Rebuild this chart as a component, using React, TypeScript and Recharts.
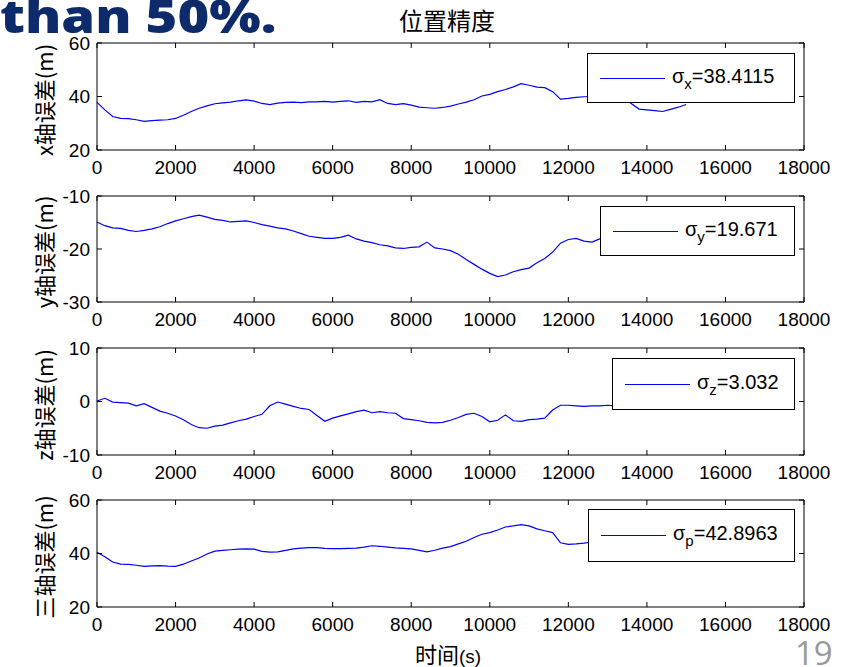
import React from 'react'
import { LineChart, Line, XAxis, YAxis, ReferenceLine } from 'recharts'

// time axis (s), one sample every 200 s
const TIME = [
  0, 200, 400, 600, 800, 1000, 1200, 1400, 1600, 1800,
  2000, 2200, 2400, 2600, 2800, 3000, 3200, 3400, 3600, 3800,
  4000, 4200, 4400, 4600, 4800, 5000, 5200, 5400, 5600, 5800,
  6000, 6200, 6400, 6600, 6800, 7000, 7200, 7400, 7600, 7800,
  8000, 8200, 8400, 8600, 8800, 9000, 9200, 9400, 9600, 9800,
  10000, 10200, 10400, 10600, 10800, 11000, 11200, 11400, 11600, 11800,
  12000, 12200, 12400, 12600, 12800, 13000, 13200, 13400, 13600, 13800,
  14000, 14200, 14400, 14600, 14800, 15000,
]

const X_ERR = [
  37.8, 35.0, 32.5, 31.8, 31.7, 31.3, 30.7, 31.0, 31.2, 31.3,
  31.8, 33.0, 34.4, 35.6, 36.5, 37.3, 37.6, 37.9, 38.4, 38.7,
  38.3, 37.4, 37.0, 37.5, 37.8, 37.9, 37.7, 38.0, 38.0, 38.2,
  37.9, 38.2, 38.4, 37.8, 38.2, 38.0, 38.8, 37.4, 37.0, 37.3,
  36.8, 36.0, 35.8, 35.6, 35.9, 36.4, 37.2, 37.9, 38.8, 40.2,
  40.8, 41.8, 42.6, 43.6, 44.8, 44.2, 43.5, 43.3, 41.8, 39.0,
  39.3, 39.7, 39.9, 40.0, 40.3, 40.5, 40.2, 39.6, 37.4, 35.3,
  35.0, 34.7, 34.4, 35.2, 36.0, 37.0,
]

const Y_ERR = [
  -14.9, -15.6, -16.0, -16.1, -16.5, -16.7, -16.5, -16.2, -15.8, -15.2,
  -14.7, -14.3, -13.9, -13.6, -14.0, -14.4, -14.6, -14.9, -14.8, -14.7,
  -15.0, -15.4, -15.7, -16.0, -16.2, -16.6, -17.1, -17.6, -17.8, -18.0,
  -18.0, -17.8, -17.4, -18.1, -18.5, -18.8, -19.2, -19.4, -19.8, -19.9,
  -19.7, -19.6, -18.7, -19.8, -20.0, -20.3, -21.0, -22.0, -22.9, -23.8,
  -24.6, -25.2, -24.9, -24.3, -23.9, -23.6, -22.6, -21.8, -20.6, -18.9,
  -18.2, -18.0, -18.5, -18.7, -18.1, -18.0, -17.8, -17.9, -18.2, -18.4,
  -18.3, -18.6, -18.8, -18.5, -18.4, -18.6,
]

const Z_ERR = [
  0.1, 0.6, -0.1, -0.2, -0.3, -0.8, -0.4, -1.1, -1.8, -2.2,
  -2.7, -3.4, -4.3, -4.9, -5.0, -4.6, -4.4, -4.0, -3.6, -3.3,
  -2.8, -2.4, -0.8, -0.1, -0.5, -0.9, -1.3, -1.5, -2.6, -3.7,
  -3.1, -2.7, -2.3, -1.9, -1.6, -2.1, -1.9, -2.1, -2.2, -3.2,
  -3.4, -3.6, -3.9, -4.0, -3.9, -3.5, -3.0, -2.4, -2.2, -2.8,
  -3.8, -3.5, -2.5, -3.6, -3.7, -3.4, -3.3, -3.1, -1.6, -0.7,
  -0.7, -0.8, -0.9, -0.8, -0.8, -0.7, -0.8, -0.9, -0.8, -0.9,
  -1.0, -0.9, -1.0, -1.1, -1.0, -1.1,
]

const P_ERR = [
  40.5, 38.8, 36.8, 36.0, 35.9, 35.6, 35.2, 35.4, 35.5, 35.3,
  35.2, 36.0, 37.2, 38.3, 39.8, 40.9, 41.2, 41.4, 41.6, 41.7,
  41.6, 40.8, 40.5, 40.6, 41.2, 41.7, 42.0, 42.2, 42.2, 41.9,
  41.8, 41.8, 41.9, 42.0, 42.4, 42.9, 42.7, 42.4, 42.1, 41.9,
  41.7, 41.2, 40.6, 41.2, 42.0, 42.6, 43.6, 44.6, 46.0, 47.2,
  47.8, 48.8, 49.9, 50.3, 50.8, 50.3, 49.2, 48.5, 47.8, 44.0,
  43.4, 43.6, 43.9, 44.3, 44.5, 44.6, 44.4, 44.2, 43.6, 43.0,
  42.8, 42.6, 42.5, 42.8, 43.0, 43.2,
]

const X_TICKS = [0, 2000, 4000, 6000, 8000, 10000, 12000, 14000, 16000, 18000]
const X_DOMAIN = [0, 18000]

const ROWS = TIME.map((t, i) => ({ t, x: X_ERR[i], y: Y_ERR[i], z: Z_ERR[i], p: P_ERR[i] }))

const PLOT_LEFT = 97
const PLOT_W = 707
const TICK_FONT = '"Liberation Sans", Arial, sans-serif'
const CJK_FONT = '"Noto Sans CJK SC", "Liberation Sans", sans-serif'

const PANELS = [
  { key: 'x', top: 43, h: 107, domain: [20, 60], ticks: [20, 40, 60], label: 'x轴误差(m)', sub: 'x', sigma: '38.4115', lg: { left: 587, top: 53, width: 208, height: 50 } },
  { key: 'y', top: 196, h: 106, domain: [-30, -10], ticks: [-30, -20, -10], label: 'y轴误差(m)', sub: 'y', sigma: '19.671', lg: { left: 600, top: 206, width: 195, height: 50 } },
  { key: 'z', top: 348, h: 107, domain: [-10, 10], ticks: [-10, 0, 10], label: 'z轴误差(m)', sub: 'z', sigma: '3.032', lg: { left: 612, top: 358, width: 183, height: 52 } },
  { key: 'p', top: 500, h: 107, domain: [20, 60], ticks: [20, 40, 60], label: '三轴误差(m)', sub: 'p', sigma: '42.8963', lg: { left: 588, top: 509, width: 207, height: 53 } },
]

const X_MARGIN = 11
const Y_MARGIN = 7

const makeXTick = (h: number) => (props: any) => {
  const { x, y, payload } = props
  const base = y - X_MARGIN
  return (
    <g>
      <line x1={x} x2={x} y1={base} y2={base - 5} stroke="#000" />
      <line x1={x} x2={x} y1={base - h} y2={base - h + 5} stroke="#000" />
      <text x={x} y={y} dy="0.71em" textAnchor="middle" fontSize={19} fontFamily={TICK_FONT} fill="#000">
        {payload.value}
      </text>
    </g>
  )
}

const makeYTick = () => (props: any) => {
  const { x, y, payload } = props
  const base = x + Y_MARGIN
  return (
    <g>
      <line x1={base} x2={base + 5} y1={y} y2={y} stroke="#000" />
      <line x1={base + PLOT_W} x2={base + PLOT_W - 5} y1={y} y2={y} stroke="#000" />
      <text x={x} y={y} dy="0.36em" textAnchor="end" fontSize={19} fontFamily={TICK_FONT} fill="#000">
        {payload.value}
      </text>
    </g>
  )
}

function Panel({ p }: { p: (typeof PANELS)[number] }) {
  const chartH = p.h + 10 + 35
  return (
    <>
      <div style={{ position: 'absolute', left: 0, top: p.top - 10 }}>
        <LineChart width={854} height={chartH} data={ROWS} margin={{ top: 10, right: 50, bottom: 0, left: 0 }}>
          <XAxis
            dataKey="t"
            type="number"
            domain={X_DOMAIN}
            ticks={X_TICKS}
            interval={0}
            height={35}
            tickSize={0}
            tickMargin={X_MARGIN}
            tickLine={false}
            axisLine={{ stroke: '#000' }}
            tick={makeXTick(p.h)}
          />
          <YAxis
            type="number"
            domain={p.domain}
            ticks={p.ticks}
            interval={0}
            width={PLOT_LEFT}
            tickSize={0}
            tickMargin={Y_MARGIN}
            tickLine={false}
            axisLine={{ stroke: '#000' }}
            tick={makeYTick()}
          />
          <ReferenceLine y={p.domain[1]} stroke="#000" />
          <ReferenceLine x={X_DOMAIN[1]} stroke="#000" />
          <Line
            dataKey={p.key}
            type="linear"
            stroke="#0000ff"
            strokeWidth={1.2}
            dot={false}
            isAnimationActive={false}
          />
        </LineChart>
      </div>
      <div
        style={{
          position: 'absolute',
          left: 43,
          top: p.top + p.h / 2 + 3,
          transform: 'translate(-50%, -50%) rotate(-90deg)',
          whiteSpace: 'nowrap',
          fontSize: 22,
          lineHeight: 1,
          fontFamily: CJK_FONT,
          color: '#000',
        }}
      >
        {p.label}
      </div>
      <div
        style={{
          position: 'absolute',
          ...p.lg,
          boxSizing: 'border-box',
          border: '1.5px solid #000',
          background: '#fff',
          display: 'flex',
          alignItems: 'center',
          paddingLeft: 12,
          fontFamily: TICK_FONT,
          fontSize: 20,
          color: '#000',
        }}
      >
        <div style={{ width: 65, height: 0, borderTop: '1px solid #0000ff' }} />
        <span style={{ marginLeft: 7, whiteSpace: 'nowrap' }}>
          σ<sub style={{ fontSize: 15, verticalAlign: '-6px' }}>{p.sub}</sub>={p.sigma}
        </span>
      </div>
    </>
  )
}

export default function App() {
  return (
    <div
      style={{
        position: 'absolute',
        left: 0,
        top: 0,
        width: 854,
        height: 667,
        background: '#fff',
        overflow: 'hidden',
      }}
    >
      <div
        style={{
          position: 'absolute',
          left: 0,
          top: -16,
          fontFamily: '"Open Sans", sans-serif',
          fontWeight: 800,
          fontSize: 46,
          lineHeight: 'normal',
          color: '#0d2b6b',
          whiteSpace: 'nowrap',
          transform: 'scaleX(1.18)',
          transformOrigin: 'left top',
        }}
      >
        than 50%.
      </div>
      <div
        style={{
          position: 'absolute',
          left: 447,
          top: 20,
          transform: 'translate(-50%, -50%)',
          fontFamily: CJK_FONT,
          fontSize: 24,
          lineHeight: 1,
          whiteSpace: 'nowrap',
        }}
      >
        位置精度
      </div>
      {PANELS.map((p) => (
        <Panel key={p.key} p={p} />
      ))}
      <div
        style={{
          position: 'absolute',
          left: 448,
          top: 654,
          transform: 'translate(-50%, -50%)',
          fontFamily: CJK_FONT,
          fontSize: 22,
          lineHeight: 1,
          whiteSpace: 'nowrap',
        }}
      >
        时间<span style={{ fontFamily: TICK_FONT, fontSize: 19 }}>(s)</span>
      </div>
      <div
        style={{
          position: 'absolute',
          left: 795,
          top: 636,
          fontFamily: '"Open Sans", sans-serif',
          fontSize: 33,
          lineHeight: 1,
          color: '#999999',
        }}
      >
        19
      </div>
    </div>
  )
}
